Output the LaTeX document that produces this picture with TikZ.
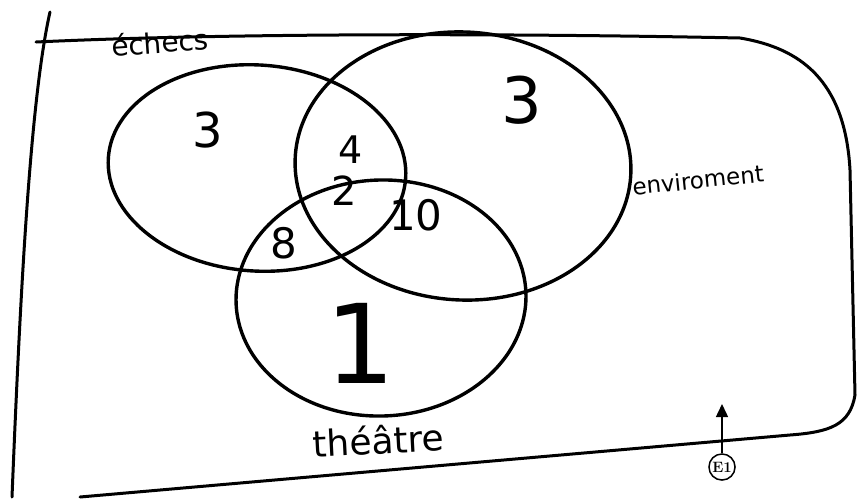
\documentclass[tikz,border=0pt]{standalone}
\usepackage{fontspec}
\newfontfamily\hand{DejaVu Sans}
\usetikzlibrary{shapes.geometric,arrows.meta}
\tikzset{
  setline/.style={draw,ellipse,line width=3.4pt,inner sep=0pt},
  count/.style={inner sep=0pt,font=\hand\fontsize{#1}{#1}\selectfont},
  setname/.style={inner sep=0pt,font=\hand\fontsize{#1}{#1}\selectfont},
  marker/.style={draw,circle,line width=1.5pt,inner sep=1.5pt,minimum size=26pt,
    font=\bfseries\fontsize{15}{15}\selectfont}
}
\begin{document}
\begin{tikzpicture}[x=1pt,y=-1pt]
\useasboundingbox (0,0) rectangle (857,499);
% the frame
\draw[line width=3pt,line cap=round]
  (36,42) .. controls (250,32) and (550,34) .. (740,38)
  .. controls (800,48) and (845,80) .. (850,170)
  -- (855,395) .. controls (850,425) and (830,432) .. (790,435)
  -- (80,497);
\draw[line width=3pt,line cap=round] (50,12) .. controls (30,100) and (20,300) .. (12,497);
% the three sets
\node[setline,minimum width=298,minimum height=206,rotate=-4] (echecs) at (257,168) {};
\node[setline,minimum width=336,minimum height=268,rotate=-3] (envir) at (463,166) {};
\node[setline,minimum width=290,minimum height=236,rotate=2] (theatre) at (381,298) {};
% names of the sets
\node[setname=28,rotate=4] (echecsname) at (160,42) {échecs};
\node[setname=23,rotate=6] (envirname) at (698,180) {enviroment};
\node[setname=36,rotate=3] (theatrename) at (378,440) {théâtre};
% counts
\node[count=48] (only e) at (208,130) {3};
\node[count=64] (only v) at (522,100) {3};
\node[count=38] (ev) at (351,150) {4};
\node[count=40] (evt) at (344,191) {2};
\node[count=42] (et) at (284,243) {8};
\node[count=42] (vt) at (416,215) {10};
\node[count=110] (only t) at (360,343) {1};
% marker
\node[marker] (e1) at (722,467) {E1};
\coordinate (e1tip) at (722,404);
\draw[line width=1.5pt,-{Triangle[length=13pt,width=12pt]}] (e1) -- (e1tip);
\end{tikzpicture}
\end{document}
